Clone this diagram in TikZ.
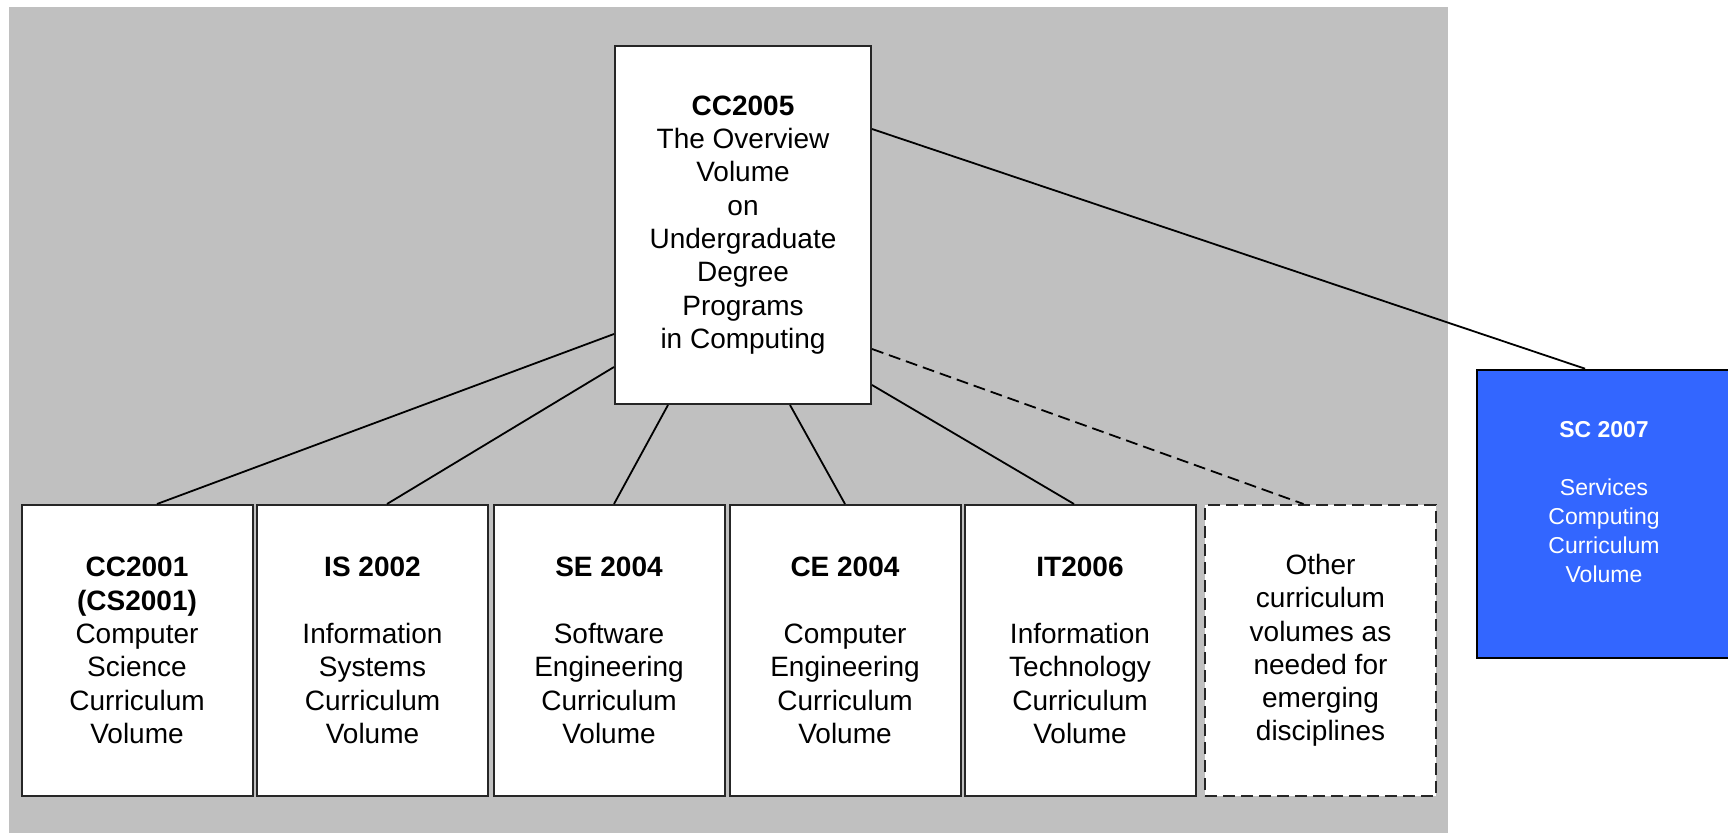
\documentclass[tikz,border=0pt]{standalone}
\usepackage{fontspec}
\setmainfont{Liberation Sans}
\definecolor{bggray}{HTML}{C0C0C0}
\definecolor{scblue}{HTML}{3366FF}
\tikzset{
  vol/.style={draw=black!85, line width=1pt, fill=white, rectangle, align=center,
    minimum width=115.5pt, minimum height=145.5pt, inner sep=0pt,
    font=\fontsize{14}{16.65}\selectfont},
  volother/.style={vol, dashed, dash pattern=on 6pt off 3pt},
  topbox/.style={draw=black!85, line width=1pt, fill=white, rectangle, align=center,
    minimum width=128pt, minimum height=179pt, inner sep=0pt,
    font=\fontsize{14}{16.65}\selectfont},
  scbox/.style={draw=black, line width=1.3pt, fill=scblue, rectangle,
    minimum width=129pt, minimum height=144pt, inner sep=0pt},
  sctext/.style={text=white, align=center, font=\fontsize{11.5}{14.5}\selectfont},
  link/.style={draw=black, line width=0.9pt},
  dlink/.style={link, dash pattern=on 6pt off 3pt},
}
\begin{document}
\begin{tikzpicture}[x=0.5pt,y=-0.5pt]
\clip (0,0) rectangle (1728,833);
\fill[white] (0,0) rectangle (1728,833);
\fill[bggray] (9,7) rectangle (1448,833);

\node[topbox] (top) at (743,225) {\textbf{CC2005}\\The Overview\\Volume\\on\\Undergraduate\\Degree\\Programs\\in Computing};

\node[vol] (b1) at (137,650.5) {\textbf{CC2001}\\\textbf{(CS2001)}\\Computer\\Science\\Curriculum\\Volume};
\node[vol] (b2) at (372.5,650.5) {\textbf{IS 2002}\\\mbox{}\\Information\\Systems\\Curriculum\\Volume};
\node[vol] (b3) at (609,650.5) {\textbf{SE 2004}\\\mbox{}\\Software\\Engineering\\Curriculum\\Volume};
\node[vol] (b4) at (845,650.5) {\textbf{CE 2004}\\\mbox{}\\Computer\\Engineering\\Curriculum\\Volume};
\node[vol] (b5) at (1080,650.5) {\textbf{IT2006}\\\mbox{}\\Information\\Technology\\Curriculum\\Volume};
\node[volother] (b6) at (1320.5,650.5) {Other\\curriculum\\volumes as\\needed for\\emerging\\disciplines};

\node[scbox] (sc) at (1606,514) {};
\node[sctext] (sct) at (1604,502) {\textbf{SC 2007}\\\mbox{}\\Services\\Computing\\Curriculum\\Volume};

\draw[link] ([shift={(0,-71)}]top.south west) -- ([shift={(20,0)}]b1.north);
\draw[link] ([shift={(0,-38)}]top.south west) -- ([shift={(14.5,0)}]b2.north);
\draw[link] ([shift={(54,0)}]top.south west) -- ([shift={(5,0)}]b3.north);
\draw[link] ([shift={(-82,0)}]top.south east) -- ([shift={(0,0)}]b4.north);
\draw[link] ([shift={(0,-20)}]top.south east) -- ([shift={(-6,0)}]b5.north);
\draw[dlink] ([shift={(0,-56)}]top.south east) -- ([shift={(-17,0)}]b6.north);
\draw[link] ([shift={(0,84)}]top.north east) -- ([shift={(-21,0)}]sc.north);
\end{tikzpicture}
\end{document}
